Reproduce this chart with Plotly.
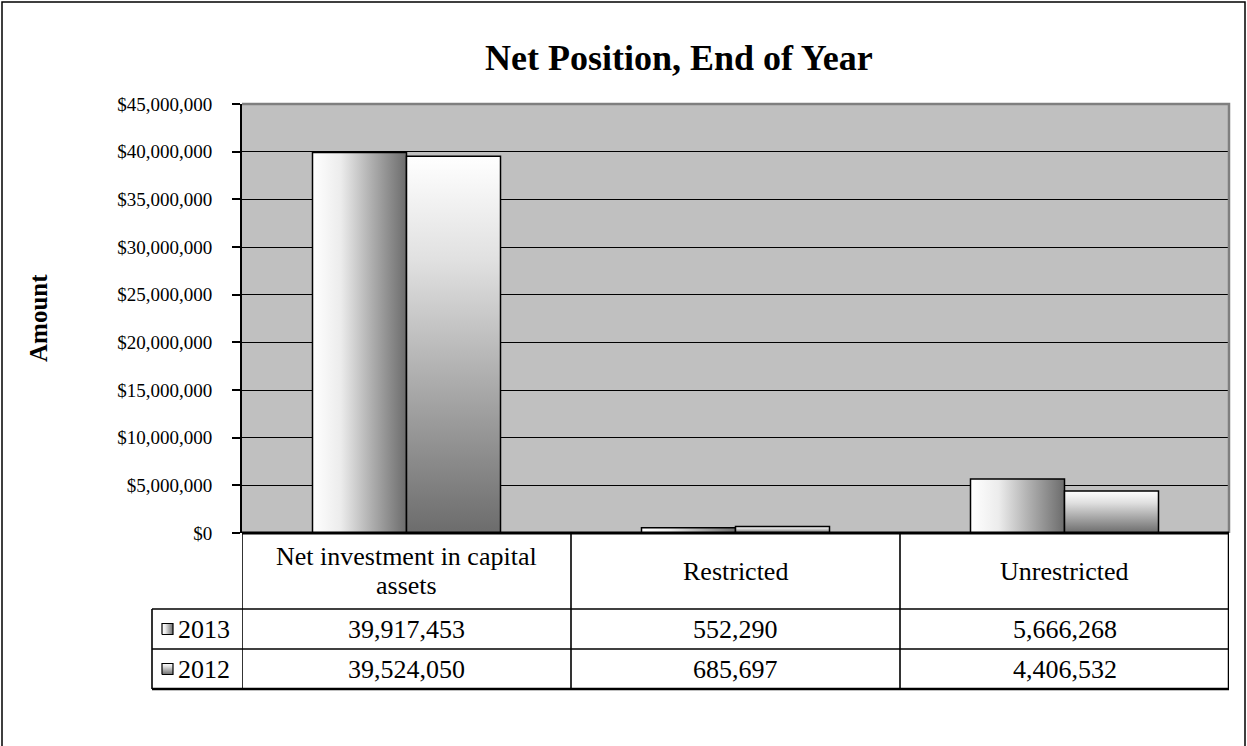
import plotly.graph_objects as go

# ---------------- data ----------------
categories = ["Net investment in capital assets", "Restricted", "Unrestricted"]
category_label_lines = [["Net investment in capital", "assets"], ["Restricted"], ["Unrestricted"]]
series_names = ["2013", "2012"]
values_2013 = [39917453, 552290, 5666268]
values_2012 = [39524050, 685697, 4406532]
y_tick_values = [0, 5000000, 10000000, 15000000, 20000000, 25000000,
                 30000000, 35000000, 40000000, 45000000]

# ---------------- geometry (pixels) ----------------
W, H = 1247, 746
PL, PR, PT, PB = 242, 1229, 104, 533      # plot area
ROW_HDR_B, ROW1_B, ROW2_B = 609, 649, 689  # table row bottoms
LEG_L = 152
FONT = "Liberation Serif"


def px(x):
    return x / W


def py(y):
    return 1 - y / H


BAR_W = 1 / 3.5

grad_h = [[0, "#ffffff"], [0.3, "#ececec"], [0.62, "#b0b0b0"], [1, "#6c6c6c"]]
grad_v = [[0, "#6c6c6c"], [0.35, "#a4a4a4"], [0.72, "#e0e0e0"], [1, "#ffffff"]]
series = [
    (series_names[0], values_2013, dict(type="horizontal", colorscale=grad_h), -1),
    (series_names[1], values_2012, dict(type="vertical", colorscale=grad_v), 0),
]

fig = go.Figure()

# bars drawn as filled rectangles on the category axis (gradients)
for name, vals, grad, off in series:
    for i, v in enumerate(vals):
        x0 = i + off * BAR_W
        x1 = x0 + BAR_W
        fig.add_trace(go.Scatter(
            x=[x0, x1, x1, x0, x0], y=[0, 0, v, v, 0],
            mode="lines", fill="toself", fillgradient=grad,
            line=dict(color="black", width=1.5),
            name=name, showlegend=False, hoverinfo="skip",
            xaxis="x", yaxis="y"))

# legend keys in the data table (pixel overlay axes)
key_rows = [(ROW_HDR_B + ROW1_B) / 2, (ROW1_B + ROW2_B) / 2]
for (name, vals, grad, off), yc in zip(series, key_rows):
    kx0, kx1 = 162, 173
    ky0, ky1 = yc - 5.5, yc + 5.5
    fig.add_trace(go.Scatter(
        x=[kx0, kx1, kx1, kx0, kx0], y=[ky1, ky1, ky0, ky0, ky1],
        mode="lines", fill="toself", fillgradient=grad,
        line=dict(color="black", width=1.2),
        showlegend=False, hoverinfo="skip", xaxis="x2", yaxis="y2"))

fig.update_layout(
    width=W, height=H,
    margin=dict(l=0, r=0, t=0, b=0, pad=0, autoexpand=False),
    paper_bgcolor="white",
    plot_bgcolor="rgba(0,0,0,0)",
    showlegend=False,
    xaxis=dict(domain=[px(PL), px(PR)], range=[-0.5, 2.5], visible=False,
               fixedrange=True, automargin=False),
    yaxis=dict(domain=[py(PB), py(PT)], range=[0, 45000000],
               tickvals=y_tick_values, tickformat="$,.0f",
               showgrid=True, gridcolor="black", gridwidth=1.3,
               showline=True, linecolor="black", linewidth=2,
               ticks="outside", ticklen=8, tickwidth=1.5, tickcolor="black",
               ticklabelstandoff=16, zeroline=False, automargin=False,
               tickfont=dict(family=FONT, size=19, color="black"),
               fixedrange=True),
    xaxis2=dict(domain=[0, 1], range=[0, W], visible=False, anchor="y2",
                fixedrange=True, automargin=False),
    yaxis2=dict(domain=[0, 1], range=[H, 0], visible=False, anchor="x2",
                fixedrange=True, automargin=False),
)

shapes = []
shapes.append(dict(type="rect", xref="paper", yref="paper", layer="below",
                   x0=px(PL), x1=px(PR), y0=py(PB), y1=py(PT),
                   fillcolor="#C0C0C0", line=dict(width=0)))
shapes.append(dict(type="path", xref="paper", yref="paper",
                   path=f"M {px(PL)},{py(PT)} L {px(PR)},{py(PT)} L {px(PR)},{py(PB)}",
                   line=dict(color="#7f7f7f", width=2.5)))
shapes.append(dict(type="path", xref="paper", yref="paper",
                   path=f"M {px(2)},{py(760)} L {px(2)},{py(2)} L {px(1245)},{py(2)} L {px(1245)},{py(760)}",
                   line=dict(color="black", width=1.5)))
shapes.append(dict(type="line", xref="paper", yref="paper",
                   x0=px(PL), x1=px(PR), y0=py(PB), y1=py(PB),
                   line=dict(color="black", width=3)))
for yy, wd in [(ROW_HDR_B, 1.6), (ROW1_B, 1.6), (ROW2_B, 2.5)]:
    shapes.append(dict(type="line", xref="paper", yref="paper",
                       x0=px(LEG_L), x1=px(PR), y0=py(yy), y1=py(yy),
                       line=dict(color="black", width=wd)))
for k in range(len(categories) + 1):
    xv = k - 0.5
    wd = 2.5 if k == len(categories) else 1.6
    shapes.append(dict(type="line", xref="x", yref="paper",
                       x0=xv, x1=xv, y0=py(PB), y1=py(ROW2_B),
                       line=dict(color="black", width=wd)))
shapes.append(dict(type="line", xref="paper", yref="paper",
                   x0=px(LEG_L), x1=px(LEG_L), y0=py(ROW_HDR_B), y1=py(ROW2_B),
                   line=dict(color="black", width=1.6)))
fig.update_layout(shapes=shapes)

ann = []
ann.append(dict(text="<b>Net Position, End of Year</b>", xref="paper", yref="paper",
                x=px(679), y=py(58), xanchor="center", yanchor="middle", showarrow=False,
                font=dict(family=FONT, size=36, color="black")))
ann.append(dict(text="<b>Amount</b>", xref="paper", yref="paper",
                x=px(38), y=py(318), xanchor="center", yanchor="middle",
                showarrow=False, textangle=-90,
                font=dict(family=FONT, size=25, color="black")))
TFONT = dict(family=FONT, size=26, color="black")
hdr_mid = (PB + ROW_HDR_B) / 2
for i, lines in enumerate(category_label_lines):
    n = len(lines)
    for j, line in enumerate(lines):
        yc = hdr_mid + (j - (n - 1) / 2) * 29
        ann.append(dict(text=line, xref="x", yref="paper", x=i, y=py(yc),
                        xanchor="center", yanchor="middle", showarrow=False,
                        font=TFONT))
for (name, vals, grad, off), yc in zip(series, key_rows):
    ann.append(dict(text=name, xref="paper", yref="paper", x=px(176), y=py(yc),
                    xanchor="left", yanchor="middle", showarrow=False, font=TFONT))
    for i, v in enumerate(vals):
        ann.append(dict(text=f"{v:,}", xref="x", yref="paper", x=i, y=py(yc),
                        xanchor="center", yanchor="middle", showarrow=False,
                        font=TFONT))
fig.update_layout(annotations=ann)

fig.write_html("out.html")
